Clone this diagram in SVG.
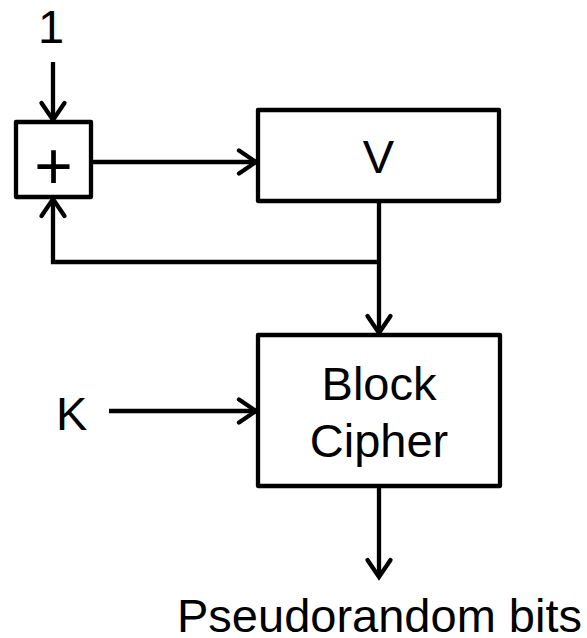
<svg xmlns="http://www.w3.org/2000/svg" width="587" height="638" viewBox="0 0 587 638">
<style>
.box{fill:#fff;stroke:#000;stroke-width:4.3;stroke-linejoin:round}
.ln{fill:none;stroke:#000;stroke-width:4.3;stroke-linejoin:miter}
.t{font-family:"Liberation Sans",Arial,sans-serif;font-size:47px;fill:#000}
</style>
<defs>
<marker id="ah" markerUnits="userSpaceOnUse" markerWidth="30" markerHeight="30" viewBox="-24 -15 30 30" refX="-1" refY="0" orient="auto" overflow="visible">
<path d="M-18,-11.5 L-1,0 L-18,11.5" fill="none" stroke="#000" stroke-width="4.3" stroke-linecap="round" stroke-linejoin="miter"/>
</marker>
</defs>
<g id="connectors">
<line class="ln" x1="53" y1="62" x2="53" y2="120" marker-end="url(#ah)"/>
<line class="ln" x1="93" y1="162" x2="256" y2="162" marker-end="url(#ah)"/>
<line class="ln" x1="379" y1="202" x2="379" y2="333" marker-end="url(#ah)"/>
<polyline class="ln" points="379,262 53,262 53,199" marker-end="url(#ah)"/>
<line class="ln" x1="109" y1="411" x2="256" y2="411" marker-end="url(#ah)"/>
<line class="ln" x1="379" y1="488" x2="379" y2="577" marker-end="url(#ah)"/>
</g>
<g id="one"><text class="t" x="38" y="43">1</text></g>
<g id="adder">
<rect class="box" x="16" y="122" width="75" height="75"/>
<text class="t" x="53.5" y="189" text-anchor="middle" style="font-size:66px">+</text>
</g>
<g id="v">
<rect class="box" x="258" y="110" width="241" height="91"/>
<text class="t" x="378.5" y="173" text-anchor="middle">V</text>
</g>
<g id="k"><text class="t" x="56" y="430">K</text></g>
<g id="cipher">
<rect class="box" x="258" y="335" width="242" height="151"/>
<text class="t" x="379" y="400" text-anchor="middle">Block</text>
<text class="t" x="379" y="457" text-anchor="middle">Cipher</text>
</g>
<g id="output"><text class="t" x="379.5" y="632" text-anchor="middle">Pseudorandom bits</text></g>
</svg>
